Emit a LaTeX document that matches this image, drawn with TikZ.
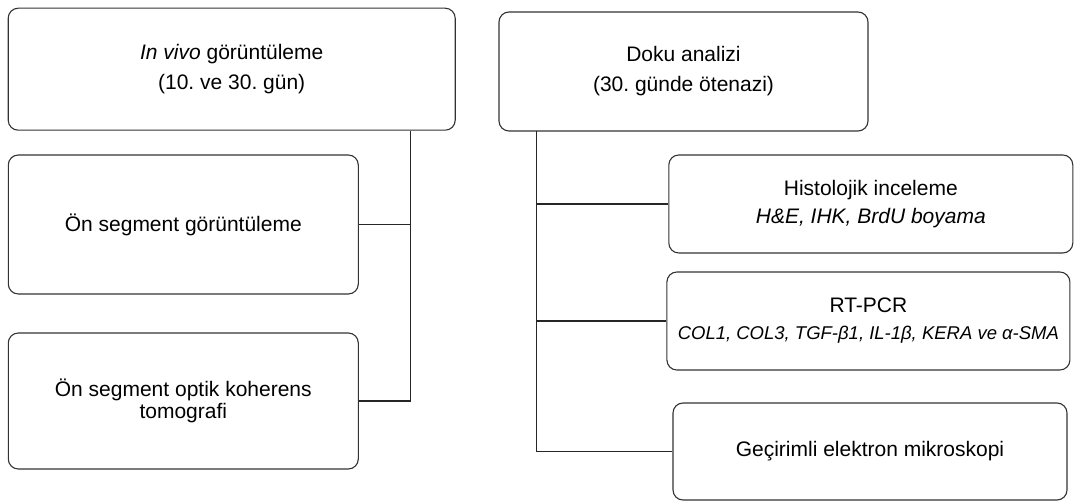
\documentclass[tikz,border=0pt]{standalone}
\usepackage{fontspec}
\setmainfont{Liberation Sans}
\usetikzlibrary{positioning}
\frenchspacing

\begin{document}
\begin{tikzpicture}[x=1pt,y=-1pt,
	box/.style={draw=black!80,line width=1.1pt,rounded corners=10pt,align=center,inner sep=0pt,
		font=\fontsize{21}{22}\selectfont},
	link/.style={draw=black!85,line width=1.1pt}]
	\useasboundingbox (0,0) rectangle (1076,502);

	\node[box,minimum width=447,minimum height=122] (1) at (231.7,69.2) {\textit{In vivo} görüntüleme\\[8pt](10. ve 30. gün)};
	\node[box,minimum width=350,minimum height=139] (2) at (183.3,224.5) {Ön segment görüntüleme};
	\node[box,minimum width=350,minimum height=136] (3) at (183.3,401) {Ön segment optik koherens\\tomografi};

	\node[box,minimum width=369,minimum height=119] (4) at (683.5,71.5) {Doku analizi\\[8pt](30. günde ötenazi)};
	\node[box,minimum width=404,minimum height=98] (5) at (870.8,204) {Histolojik inceleme\\[6pt]\textit{H\&E, IHK, BrdU boyama}};
	\node[box,minimum width=403,minimum height=98] (6) at (868.4,321) {RT-PCR\\[5pt]{\fontsize{18.5}{20}\selectfont\itshape COL1, COL3, TGF-β1, IL-1β, KERA ve α-SMA}};
	\node[box,minimum width=394,minimum height=97] (7) at (870,451.5) {Geçirimli elektron mikroskopi};

	\coordinate (l) at (410.5,130.7);
	\coordinate (r) at (536.7,131);

	\draw[link] (l) |- (3.east);
	\draw[link] (2.east) -- (2.east -| l);
	\draw[link] (r) |- (7.west);
	\draw[link] (5.west) -- (5.west -| r);
	\draw[link] (6.west) -- (6.west -| r);
\end{tikzpicture}
\end{document}
